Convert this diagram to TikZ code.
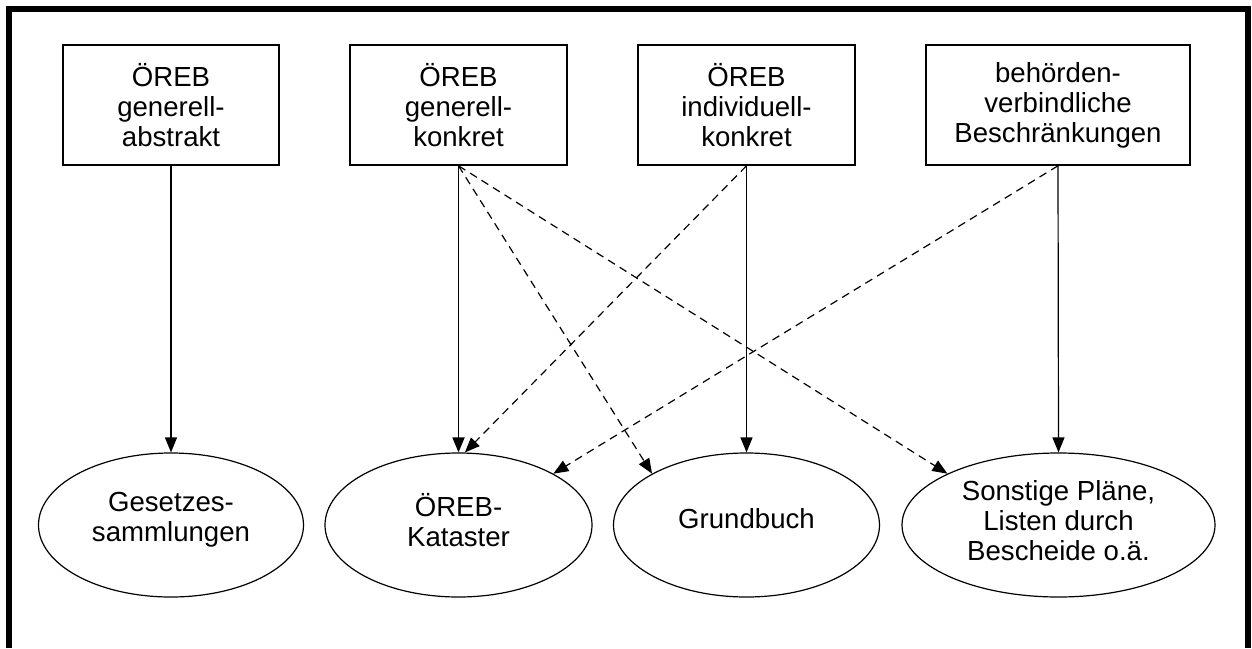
\documentclass[tikz,border=0pt]{standalone}
\usepackage{fontspec}
\setmainfont{Liberation Sans}
\usetikzlibrary{arrows.meta,shapes.geometric}

\begin{document}
\begin{tikzpicture}[
  x=0.5pt, y=-0.5pt,
  frame/.style={line width=3pt, draw=black},
  box/.style={rectangle, draw=black, line width=0.8pt, align=center,
    font=\fontsize{13.8}{15}\selectfont, minimum height=60pt, inner sep=2pt},
  oval/.style={ellipse, draw=black, line width=0.6pt, align=center,
    font=\fontsize{13.8}{15}\selectfont, minimum height=72pt, inner sep=0pt},
  link/.style={-{Triangle[length=7.5pt,width=6pt]}, line width=0.6pt},
  dlink/.style={link, dash pattern=on 4pt off 2.8pt},
]
\useasboundingbox (0,0) rectangle (1252,648);

% Frame
\draw[frame] (9,648) -- (9,9) -- (1248,9) -- (1248,648);

% Restrictions
\node[box, minimum width=108pt] (ga) at (171,105) {ÖREB\\generell-\\abstrakt};
\node[box, minimum width=108.5pt] (gk) at (458.5,105) {ÖREB\\generell-\\konkret};
\node[box, minimum width=108.5pt] (ik) at (746.5,105) {ÖREB\\individuell-\\konkret};
\node[box, minimum width=132pt] (bb) at (1058,105) {behörden-\\verbindliche\\Beschränkungen};

% Registers
\node[oval, minimum width=132.5pt] (gs) at (171,525) {};
\node[oval, minimum width=133.5pt] (ok) at (458.5,525) {};
\node[oval, minimum width=133pt] (gb) at (746.5,525) {};
\node[oval, minimum width=156.5pt] (sp) at (1058.5,525) {};
\node[align=center, font=\fontsize{13.8}{15}\selectfont] (gst) at (171,520) {Gesetzes-\\sammlungen};
\node[align=center, font=\fontsize{13.8}{15}\selectfont] (okt) at (458.5,520) {ÖREB-\\Kataster};
\node[align=center, font=\fontsize{13.8}{15}\selectfont] (gbt) at (746.5,519) {Grundbuch};
\node[align=center, font=\fontsize{13.8}{15}\selectfont] (spt) at (1058.5,521) {Sonstige Pläne,\\Listen durch\\Bescheide o.ä.};

% Connectors
\draw[link] (ga.south) -- (gs.north);
\draw[link, line width=0.9pt] (gk.south) -- (ok.north);
\draw[link] (ik.south) -- (gb.north);
\draw[link] (bb.south) -- (sp.north);

\draw[dlink] (gk.south) -- (gb.north west);
\draw[dlink] (gk.south) -- (sp.north west);
\draw[dlink] (ik.south) -- (ok.85);
\draw[dlink] (bb.south) -- (ok.north east);

\end{tikzpicture}
\end{document}
